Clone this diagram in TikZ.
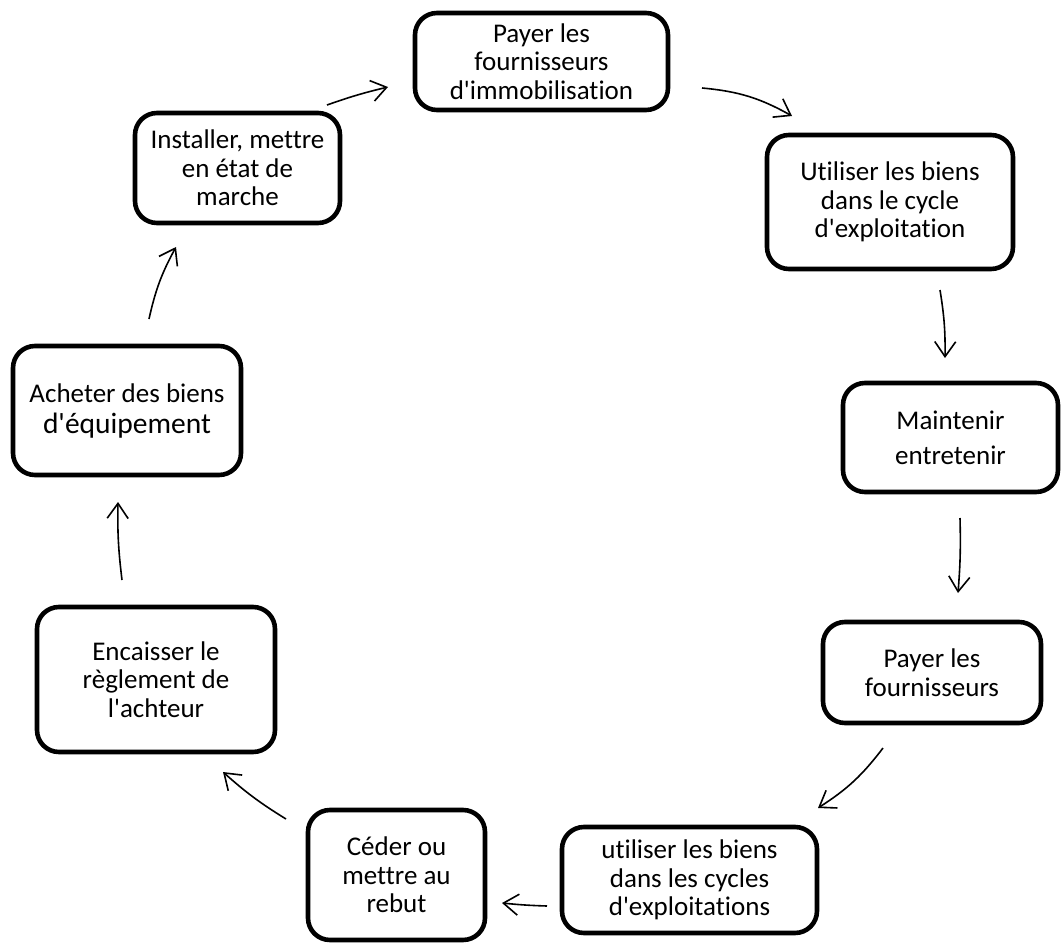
\documentclass[tikz,border=0pt]{standalone}
\usepackage{fontspec}
\setmainfont{Carlito}[Ligatures=CommonOff]
\usetikzlibrary{arrows.meta}
\newcommand{\ap}{\textquotesingle}
\begin{document}
\begin{tikzpicture}[x=1pt,y=1pt,
  stepbox/.style={draw=black, fill=white, line width=4.6pt, rounded corners=22pt,
    align=center, inner sep=0pt, font=\fontsize{27}{28.5}\selectfont},
  flow/.style={line width=1.6pt,
    -{Straight Barb[length=15pt,width=21pt,line width=1.6pt]}, bend left=#1},
  flow/.default=6]
\useasboundingbox (0,0) rectangle (1061,-945);

% process steps
\node[stepbox, minimum width=253pt, minimum height=97pt]  (pay1)  at (541.5,-61.5) {Payer les\\fournisseurs\\d\ap immobilisation};
\node[stepbox, minimum width=246pt, minimum height=134pt] (use1)  at (890,-202)    {Utiliser les biens\\dans le cycle\\d\ap exploitation};
\node[stepbox, minimum width=215pt, minimum height=109pt, font=\fontsize{27}{35}\selectfont] (maint) at (950.5,-437.5) {Maintenir\\entretenir};
\node[stepbox, minimum width=218pt, minimum height=101pt] (pay2)  at (932,-672.5)  {Payer les\\fournisseurs};
\node[stepbox, minimum width=255pt, minimum height=106pt] (use2)  at (689.5,-880)  {utiliser les biens\\dans les cycles\\d\ap exploitations};
\node[stepbox, minimum width=177pt, minimum height=130pt] (cede)  at (396.5,-875)  {Céder ou\\mettre au\\rebut};
\node[stepbox, minimum width=238pt, minimum height=145pt] (cash)  at (156,-679.5)  {Encaisser le\\règlement de\\l\ap achteur};
\node[stepbox, minimum width=228pt, minimum height=129pt, font=\fontsize{27}{31}\selectfont] (buy) at (127,-410.5) {Acheter des biens\\{\fontsize{29.5}{31}\selectfont d\ap équipement}};
\node[stepbox, minimum width=205pt, minimum height=110pt] (inst)  at (237.5,-168)  {Installer, mettre\\en état de\\marche};

% arrow end points between the steps
\coordinate (a1s) at (327,-105);  \coordinate (a1e) at (388,-87);
\coordinate (a2s) at (702,-88);   \coordinate (a2e) at (792,-116);
\coordinate (a3s) at (940,-290);  \coordinate (a3e) at (945,-358);
\coordinate (a4s) at (960,-518);  \coordinate (a4e) at (958,-593);
\coordinate (a5s) at (883,-748);  \coordinate (a5e) at (818,-808);
\coordinate (a6s) at (547,-906);  \coordinate (a6e) at (502,-903);
\coordinate (a7s) at (286,-819);  \coordinate (a7e) at (223,-772);
\coordinate (a8s) at (122,-580);  \coordinate (a8e) at (118,-502);
\coordinate (a9s) at (149,-319);  \coordinate (a9e) at (176,-247);

\draw[flow=3]  (a1s) to (a1e);
\draw[flow=12] (a2s) to (a2e);
\draw[flow=5]  (a3s) to (a3e);
\draw[flow=3]  (a4s) to (a4e);
\draw[flow=10] (a5s) to (a5e);
\draw[flow=2]  (a6s) to (a6e);
\draw[flow=5]  (a7s) to (a7e);
\draw[flow=4]  (a8s) to (a8e);
\draw[flow=8]  (a9s) to (a9e);
\end{tikzpicture}
\end{document}
